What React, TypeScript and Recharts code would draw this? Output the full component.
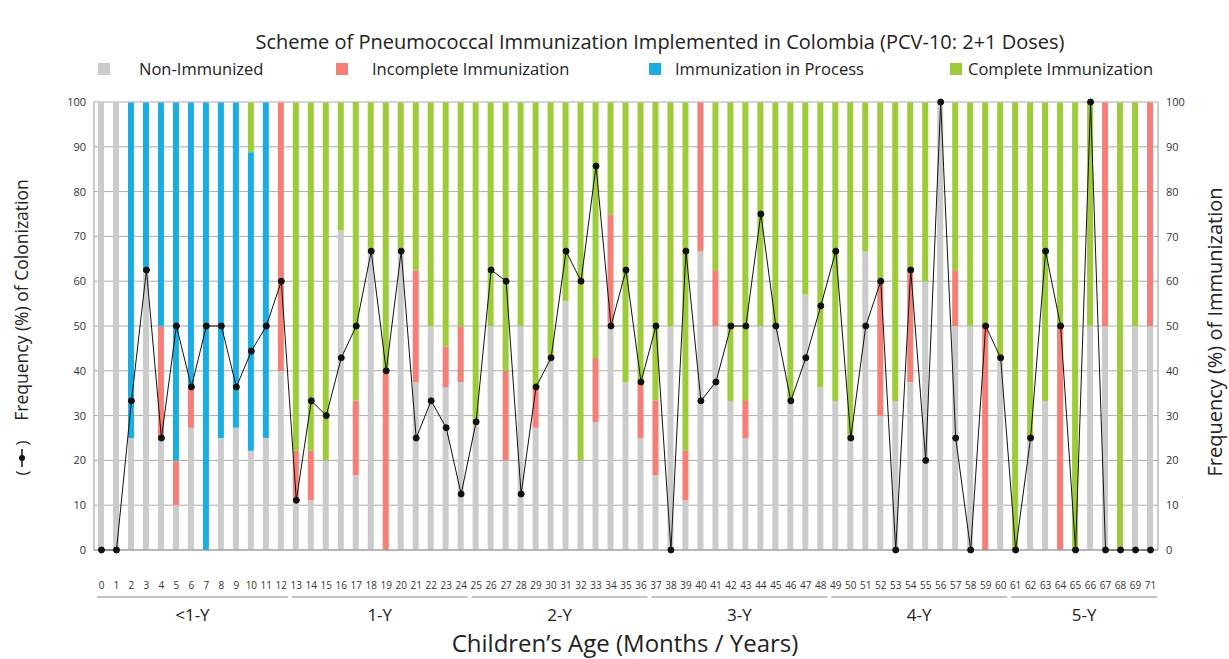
import { ComposedChart, Bar, Line, XAxis, YAxis, CartesianGrid } from 'recharts';

const months = [
  '0', '1', '2', '3', '4', '5', '6', '7', '8', '9', '10', '11', '12',
  '13', '14', '15', '16', '17', '18', '19', '20', '21', '22', '23', '24',
  '25', '26', '27', '28', '29', '30', '31', '32', '33', '34', '35', '36',
  '37', '38', '39', '40', '41', '42', '43', '44', '45', '46', '47', '48',
  '49', '50', '51', '52', '53', '54', '55', '56', '57', '58', '59', '60',
  '61', '62', '63', '64', '65', '66', '67', '68', '69', '71',
];

const nonImmunized = [
  100, 100, 25, 62.5, 25, 10, 27.3, 0, 25, 27.3, 22.2, 25, 40,
  11.1, 11.1, 20, 71.4, 16.7, 66.7, 0, 66.7, 37.5, 50, 36.4, 37.5,
  28.6, 50, 20, 50, 27.3, 42.9, 55.6, 20, 28.6, 50, 37.5, 25,
  16.7, 50, 11.1, 66.7, 50, 33.3, 25, 50, 50, 33.3, 57.1, 36.4,
  33.3, 25, 66.7, 30, 33.3, 37.5, 60, 100, 50, 50, 0, 42.9,
  0, 25, 33.3, 0, 0, 50, 50, 0, 50, 50,
];

const incomplete = [
  0, 0, 0, 0, 25, 10, 9.1, 0, 0, 0, 0, 0, 60,
  11.1, 11.1, 0, 0, 16.7, 0, 40, 0, 25, 0, 9.1, 12.5,
  0, 0, 20, 0, 9.1, 0, 0, 0, 14.3, 25, 0, 12.5,
  16.7, 0, 11.1, 33.3, 12.5, 0, 8.3, 0, 0, 0, 0, 0,
  0, 0, 0, 30, 0, 25, 0, 0, 12.5, 0, 50, 0,
  0, 0, 0, 50, 0, 0, 50, 0, 0, 50,
];

const inProcess = [
  0, 0, 75, 37.5, 50, 80, 63.6, 100, 75, 72.7, 66.7, 75, 0,
  0, 0, 0, 0, 0, 0, 0, 0, 0, 0, 0, 0,
  0, 0, 0, 0, 0, 0, 0, 0, 0, 0, 0, 0,
  0, 0, 0, 0, 0, 0, 0, 0, 0, 0, 0, 0,
  0, 0, 0, 0, 0, 0, 0, 0, 0, 0, 0, 0,
  0, 0, 0, 0, 0, 0, 0, 0, 0, 0,
];

const complete = [
  0, 0, 0, 0, 0, 0, 0, 0, 0, 0, 11.1, 0, 0,
  77.8, 77.8, 80, 28.6, 66.7, 33.3, 60, 33.3, 37.5, 50, 54.5, 50,
  71.4, 50, 60, 50, 63.6, 57.1, 44.4, 80, 57.1, 25, 62.5, 62.5,
  66.7, 50, 77.8, 0, 37.5, 66.7, 66.7, 50, 50, 66.7, 42.9, 63.6,
  66.7, 75, 33.3, 40, 66.7, 37.5, 40, 0, 37.5, 50, 50, 57.1,
  100, 75, 66.7, 50, 100, 50, 0, 100, 50, 0,
];

const colonization = [
  0, 0, 33.3, 62.5, 25, 50, 36.4, 50, 50, 36.4, 44.4, 50, 60,
  11.1, 33.3, 30, 42.9, 50, 66.7, 40, 66.7, 25, 33.3, 27.3, 12.5,
  28.6, 62.5, 60, 12.5, 36.4, 42.9, 66.7, 60, 85.7, 50, 62.5, 37.5,
  50, 0, 66.7, 33.3, 37.5, 50, 50, 75, 50, 33.3, 42.9, 54.5,
  66.7, 25, 50, 60, 0, 62.5, 20, 100, 25, 0, 50, 42.9,
  0, 25, 66.7, 50, 0, 100, 0, 0, 0, 0,
];

const yTicks = [0, 10, 20, 30, 40, 50, 60, 70, 80, 90, 100];

const ageGroups = [
  { label: '<1-Y', from: '0', to: '12' },
  { label: '1-Y', from: '13', to: '24' },
  { label: '2-Y', from: '25', to: '36' },
  { label: '3-Y', from: '37', to: '48' },
  { label: '4-Y', from: '49', to: '60' },
  { label: '5-Y', from: '61', to: '71' },
];

const series = [
  { key: 'nonImmunized', name: 'Non-Immunized', color: '#cbcbcb' },
  { key: 'incomplete', name: 'Incomplete Immunization', color: '#f47f76' },
  { key: 'inProcess', name: 'Immunization in Process', color: '#1badE2' },
  { key: 'complete', name: 'Complete Immunization', color: '#9dcb3c' },
];

// legend swatch / text left edges
const swatchLeft = [98, 336, 649, 950];
const textLeft = [139, 372, 675, 968];

const data = months.map((m, i) => ({
  month: m,
  nonImmunized: nonImmunized[i],
  incomplete: incomplete[i],
  inProcess: inProcess[i],
  complete: complete[i],
  colonization: colonization[i],
}));

const W = 1229;
const H = 659;
const FONT = '"Open Sans", sans-serif';
const margin = { top: 102, right: 27, bottom: 79, left: 50 };
const Y_AXIS_W = 44;
const PLOT_W = W - margin.left - margin.right - 2 * Y_AXIS_W;
const BAND = PLOT_W / months.length;

function MonthTick(props: any) {
  const { x, y, payload } = props;
  const group = ageGroups.find((g) => g.from === payload.value);
  let extra = null;
  if (group) {
    const count = months.indexOf(group.to) - months.indexOf(group.from) + 1;
    const x0 = x - BAND / 2 + 3;
    const x1 = x + (count - 0.5) * BAND - 1;
    extra = (
      <g>
        <line x1={x0} x2={x1} y1={y + 47} y2={y + 47} stroke="#888" strokeWidth={1} />
        <text
          x={(x0 + x1) / 2}
          y={y + 71}
          textAnchor="middle"
          fontSize={17}
          fill="#222"
          fontFamily={FONT}
        >
          {group.label}
        </text>
      </g>
    );
  }
  return (
    <g>
      <text x={x} y={y + 39} textAnchor="middle" fontSize={10} fill="#333" fontFamily={FONT}>
        {payload.value}
      </text>
      {extra}
    </g>
  );
}

export default function App() {
  return (
    <div style={{ position: 'absolute', left: 0, top: 0, width: W, height: H, background: '#fff', fontFamily: FONT }}>
      <div
        style={{
          position: 'absolute',
          top: 31,
          left: 0,
          width: 1320,
          textAlign: 'center',
          fontSize: 20,
          lineHeight: '22px',
          color: '#222',
        }}
      >
        Scheme of Pneumococcal Immunization Implemented in Colombia (PCV-10: 2+1 Doses)
      </div>
      {series.map((s, i) => (
        <div key={s.key}>
          <span
            style={{
              position: 'absolute',
              top: 63,
              left: swatchLeft[i],
              width: 12,
              height: 12,
              background: s.color,
            }}
          />
          <span
            style={{
              position: 'absolute',
              top: 60,
              left: textLeft[i],
              fontSize: 16.5,
              lineHeight: '18px',
              color: '#222',
              whiteSpace: 'nowrap',
            }}
          >
            {s.name}
          </span>
        </div>
      ))}

      <ComposedChart width={W} height={H} data={data} margin={margin}>
        <CartesianGrid yAxisId="left" vertical={false} stroke="#ababab" strokeWidth={1} />
        <XAxis
          dataKey="month"
          interval={0}
          tickLine={false}
          tickSize={0}
          tickMargin={0}
          height={30}
          stroke="#999"
          tick={<MonthTick />}
        />
        <YAxis
          yAxisId="left"
          orientation="left"
          width={Y_AXIS_W}
          domain={[0, 100]}
          ticks={yTicks}
          tickLine={false}
          stroke="#999"
          tick={{ fontSize: 11, fill: '#333', fontFamily: FONT }}
        />
        <YAxis
          yAxisId="right"
          orientation="right"
          width={Y_AXIS_W}
          domain={[0, 100]}
          ticks={yTicks}
          tickLine={false}
          stroke="#999"
          tick={{ fontSize: 11, fill: '#333', fontFamily: FONT }}
        />
        {series.map((s) => (
          <Bar
            key={s.key}
            yAxisId="right"
            dataKey={s.key}
            name={s.name}
            stackId="imm"
            fill={s.color}
            barSize={6}
            isAnimationActive={false}
          />
        ))}
        <Line
          yAxisId="left"
          dataKey="colonization"
          stroke="#111"
          strokeWidth={1}
          dot={{ r: 3, fill: '#111', stroke: '#111' }}
          isAnimationActive={false}
        />
      </ComposedChart>

      <svg width={W} height={H} style={{ position: 'absolute', left: 0, top: 0, pointerEvents: 'none' }}>
        <text x={625} y={652} textAnchor="middle" fontSize={24} fill="#222" fontFamily={FONT}>
          Children’s Age (Months / Years)
        </text>
        <g transform="translate(28,300) rotate(-90)">
          <text x={0} y={0} textAnchor="middle" fontSize={17.5} fill="#222" fontFamily={FONT}>
            Frequency (%) of Colonization
          </text>
        </g>
        <g transform="translate(22,458) rotate(-90)">
          <text x={-15} y={6} textAnchor="middle" fontSize={17} fill="#222" fontFamily={FONT}>(</text>
          <line x1={-9} x2={9} y1={0} y2={0} stroke="#111" strokeWidth={1.5} />
          <circle cx={0} cy={0} r={3} fill="#111" />
          <text x={15} y={6} textAnchor="middle" fontSize={17} fill="#222" fontFamily={FONT}>)</text>
        </g>
        <g transform="translate(1222,332) rotate(-90)">
          <text x={0} y={0} textAnchor="middle" fontSize={20} fill="#222" fontFamily={FONT}>
            Frequency (%) of Immunization
          </text>
        </g>
      </svg>
    </div>
  );
}
